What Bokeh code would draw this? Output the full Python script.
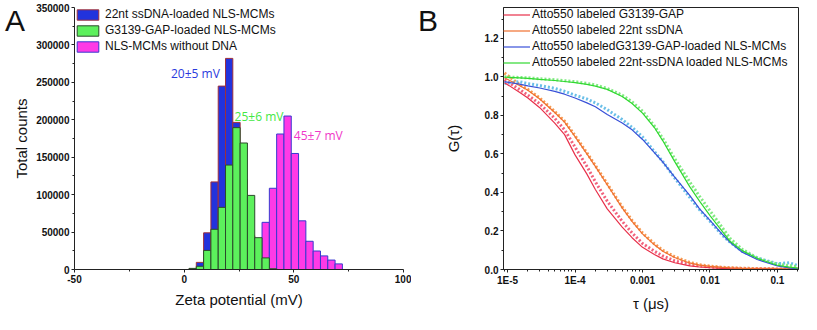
from bokeh.plotting import figure
from bokeh.models import (Range1d, Legend, LegendItem, Label, FixedTicker, Div,
                          BasicTickFormatter, PrintfTickFormatter, CustomJSTickFormatter)
from bokeh.layouts import row
from bokeh.embed import file_html
from bokeh.resources import INLINE

# ---------------- Panel A data (zeta potential histogram) ----------------
bin_centers = [3.87, 7.20, 10.53, 13.86, 17.19, 20.52, 23.85, 27.18, 30.51, 33.84,
               37.17, 40.50, 43.83, 47.16, 50.49, 53.82, 57.15, 60.48, 63.81, 67.14, 70.47]
bin_width = 3.33
blue_counts = [1000, 9500, 49000, 117000, 245000, 282000, 196500, 120000, 45000, 12000,
               2000, 1500, 0, 0, 0, 0, 0, 0, 0, 0, 0]
green_counts = [1500, 4300, 25500, 53700, 83000, 139500, 189500, 169000, 99000, 42500,
                15500, 1000, 0, 0, 0, 0, 0, 0, 0, 0, 0]
pink_counts = [0, 0, 0, 0, 0, 0, 0, 0, 0, 0,
               63000, 108500, 181000, 205000, 155000, 65000, 37700, 24700, 18200, 12600, 7500]
series_a_names = ["22nt ssDNA-loaded NLS-MCMs", "G3139-GAP-loaded NLS-MCMs", "NLS-MCMs without DNA"]
zeta_labels = ["20\u00b15 mV", "25\u00b16 mV", "45\u00b17 mV"]
zeta_label_x = [-6.0, 23.0, 50.0]
zeta_label_y = [262000, 205000, 179000]
a_yticks = [0, 50000, 100000, 150000, 200000, 250000, 300000, 350000]
a_yminor = [25000, 75000, 125000, 175000, 225000, 275000, 325000]
a_xticks = [-50, 0, 50, 100]
a_xminor = [-25, 25, 75]
panel_letters = ["A", "B"]

# ---------------- Panel B data (FCS autocorrelation) ----------------
tau = [9e-6, 1.5e-5, 2e-5, 3e-5, 5e-5, 7e-5, 1e-4, 1.5e-4, 2e-4, 3e-4, 5e-4, 7e-4,
       1e-3, 1.5e-3, 2e-3, 3e-3, 5e-3, 7e-3, 1e-2, 1.5e-2, 2e-2, 3e-2, 5e-2, 7e-2,
       1e-1, 1.5e-1, 2e-1]
red_fit = [0.97, 0.92, 0.89, 0.84, 0.76, 0.70, 0.595, 0.495, 0.415, 0.315, 0.22, 0.165,
           0.115, 0.078, 0.055, 0.035, 0.019, 0.013, 0.009, 0.006, 0.005, 0.004, 0.003, 0.003,
           0.002, 0.002, 0.002]
red_data = [0.985, 0.935, 0.905, 0.86, 0.785, 0.725, 0.635, 0.535, 0.455, 0.355, 0.25, 0.19,
            0.135, 0.095, 0.07, 0.045, 0.026, 0.018, 0.013, 0.009, 0.007, 0.005, 0.004, 0.004,
            0.003, 0.003, 0.003]
orange_fit = [0.995, 0.955, 0.93, 0.885, 0.815, 0.765, 0.69, 0.60, 0.535, 0.44, 0.32, 0.25,
              0.185, 0.128, 0.095, 0.062, 0.034, 0.023, 0.016, 0.011, 0.008, 0.006, 0.004, 0.003,
              0.003, 0.002, 0.002]
orange_data = [1.02, 0.96, 0.935, 0.89, 0.82, 0.77, 0.695, 0.605, 0.54, 0.445, 0.325, 0.255,
               0.19, 0.133, 0.10, 0.066, 0.037, 0.025, 0.018, 0.012, 0.009, 0.007, 0.005, 0.004,
               0.003, 0.003, 0.003]
blue_fit = [0.975, 0.962, 0.953, 0.942, 0.925, 0.91, 0.89, 0.865, 0.845, 0.805, 0.76, 0.725,
            0.675, 0.607, 0.558, 0.48, 0.385, 0.315, 0.255, 0.185, 0.14, 0.09, 0.052, 0.035,
            0.019, 0.008, 0.003]
blue_data = [0.965, 0.975, 0.965, 0.955, 0.94, 0.925, 0.905, 0.885, 0.865, 0.83, 0.778, 0.738,
             0.688, 0.612, 0.56, 0.475, 0.375, 0.31, 0.25, 0.18, 0.14, 0.095, 0.06, 0.045,
             0.03, 0.035, 0.02]
green_fit = [0.998, 0.995, 0.992, 0.987, 0.981, 0.976, 0.97, 0.961, 0.952, 0.935, 0.898, 0.862,
             0.812, 0.737, 0.668, 0.56, 0.43, 0.355, 0.28, 0.20, 0.145, 0.098, 0.058, 0.04,
             0.022, 0.012, 0.007]
green_data = [1.0, 0.997, 0.995, 0.99, 0.985, 0.98, 0.975, 0.966, 0.958, 0.94, 0.905, 0.87,
              0.822, 0.745, 0.68, 0.575, 0.455, 0.38, 0.305, 0.22, 0.16, 0.105, 0.06, 0.042,
              0.028, 0.02, 0.015]
series_b_names = ["Atto550 labeled G3139-GAP", "Atto550 labeled 22nt ssDNA",
                  "Atto550 labeledG3139-GAP-loaded NLS-MCMs",
                  "Atto550 labeled 22nt-ssDNA loaded NLS-MCMs"]
b_xticks = [1e-5, 1e-4, 1e-3, 1e-2, 1e-1]
b_xtick_exps = [-5, -4, -3, -2, -1]
b_xtick_labels = ["1E-5", "1E-4", "0.001", "0.01", "0.1"]
b_yticks = [0.0, 0.2, 0.4, 0.6, 0.8, 1.0, 1.2]
b_yminor = [0.1, 0.3, 0.5, 0.7, 0.9, 1.1, 1.3]

FONT = "Liberation Sans"
BLUE, GREEN, PINK = "#2233dd", "#5cf05c", "#ff3ae6"


def style_axes(p):
    for ax in (p.xaxis[0], p.yaxis[0]):
        ax.major_label_text_font = FONT
        ax.major_label_text_font_style = "bold"
        ax.major_label_text_font_size = "10px"
        ax.major_label_text_color = "#111111"
        ax.major_label_standoff = 2
        ax.axis_label_text_font = FONT
        ax.axis_label_text_font_style = "normal"
        ax.axis_label_text_font_size = "15px"
        ax.axis_label_text_color = "#111111"
        ax.major_tick_in = 0
        ax.major_tick_out = 3
        ax.minor_tick_in = 0
        ax.minor_tick_out = 2
        ax.axis_line_color = "#222222"
        ax.major_tick_line_color = "#222222"
        ax.minor_tick_line_color = "#222222"
    p.xgrid.visible = False
    p.ygrid.visible = False


def letter_div(letter, width, pad_left):
    html = ('<div style="font-family:\'Liberation Sans\';font-size:30px;line-height:30px;'
            'color:#111111;padding-top:6px;padding-left:%dpx;white-space:nowrap">%s</div>'
            % (pad_left, letter))
    return Div(text=html, width=width, height=40, margin=(0, 0, 0, 0),
               styles={"overflow": "visible"})


# ---------------- Panel A ----------------
pA = figure(width=401, height=314, x_range=Range1d(-50, 100), y_range=Range1d(0, 350000),
            output_backend="svg", toolbar_location=None,
            min_border_left=56, min_border_right=8, min_border_top=7, min_border_bottom=0)
pA.outline_line_color = None
pA.border_fill_color = None
style_axes(pA)
pA.xaxis.ticker = FixedTicker(ticks=a_xticks, minor_ticks=a_xminor)
pA.yaxis.ticker = FixedTicker(ticks=a_yticks, minor_ticks=a_yminor)
pA.yaxis.formatter = BasicTickFormatter(use_scientific=False)
pA.xaxis.formatter = CustomJSTickFormatter(code="return tick.toFixed(0);")
pA.xaxis.axis_label = "Zeta potential (mV)"
pA.yaxis.axis_label = "Total counts"
pA.xaxis.axis_label_standoff = 5
pA.yaxis.axis_label_standoff = 3


def nz(xs, ys):
    pairs = [(x, y) for x, y in zip(xs, ys) if y > 0]
    return [q[0] for q in pairs], [q[1] for q in pairs]


bx, by = nz(bin_centers, blue_counts)
rb = pA.vbar(x=bx, top=by, width=bin_width, fill_color=BLUE, line_color="#a0303a", line_width=1)
px_, py_ = nz(bin_centers, pink_counts)
rp = pA.vbar(x=px_, top=py_, width=bin_width, fill_color=PINK, line_color="#3838d0", line_width=1)
gx, gy = nz(bin_centers, green_counts)
rg = pA.vbar(x=gx, top=gy, width=bin_width, fill_color=GREEN, line_color="#2b4a2b", line_width=1)

legA = Legend(items=[LegendItem(label=series_a_names[0], renderers=[rb]),
                     LegendItem(label=series_a_names[1], renderers=[rg]),
                     LegendItem(label=series_a_names[2], renderers=[rp])],
              location="top_left", margin=0, padding=2, spacing=2,
              glyph_width=27, glyph_height=13, label_height=13, label_standoff=4,
              label_text_font=FONT, label_text_font_size="12px", label_text_color="#111111",
              border_line_color=None, background_fill_alpha=0)
pA.add_layout(legA)

label_colors = ["#2a3add", "#44e844", "#f038c8"]
for t, x, y, c in zip(zeta_labels, zeta_label_x, zeta_label_y, label_colors):
    pA.add_layout(Label(x=x, y=y, text=t, text_color=c, text_font="Open Sans",
                        text_font_size="12px", text_baseline="middle", text_align="left"))

# ---------------- Panel B ----------------
pB = figure(width=360, height=314, x_axis_type="log", x_range=Range1d(8.7e-6, 0.205),
            y_range=Range1d(0, 1.36), output_backend="svg", toolbar_location=None,
            min_border_left=59, min_border_right=3, min_border_top=5, min_border_bottom=0)
pB.outline_line_color = "#222222"
style_axes(pB)
pB.yaxis.ticker = FixedTicker(ticks=b_yticks, minor_ticks=b_yminor)
pB.yaxis.formatter = PrintfTickFormatter(format="%.1f")
minor_log = [m * 10.0 ** e for e in range(-6, 0) for m in range(2, 10)]
pB.xaxis.ticker = FixedTicker(ticks=b_xticks, minor_ticks=minor_log)
pB.xaxis.formatter = CustomJSTickFormatter(
    args=dict(exps=b_xtick_exps, labs=b_xtick_labels),
    code="const e = Math.round(Math.log10(tick)); const i = exps.indexOf(e); return i >= 0 ? labs[i] : '';")
pB.xaxis.axis_label = "\u03c4 (\u03bcs)"
pB.yaxis.axis_label = "G(\u03c4)"
pB.xaxis.axis_label_standoff = 6
pB.yaxis.axis_label_standoff = 20

data_styles = [(red_data, "#f0506e"), (orange_data, "#f5903e"),
               (blue_data, "#5ab8e6"), (green_data, "#74e874")]
for ys, c in data_styles:
    pB.line(tau, ys, line_color=c, line_width=3, line_dash="2 2", line_alpha=0.9)

fit_styles = [(red_fit, "#e8304a"), (orange_fit, "#f07030"),
              (blue_fit, "#3850d8"), (green_fit, "#30d830")]
fit_rs = []
for ys, c in fit_styles:
    fit_rs.append(pB.line(tau, ys, line_color=c, line_width=1.2))

legB = Legend(items=[LegendItem(label=n, renderers=[r]) for n, r in zip(series_b_names, fit_rs)],
              location="top_left", margin=0, padding=5, spacing=2,
              glyph_width=27, glyph_height=13, label_height=13, label_standoff=2,
              label_text_font=FONT, label_text_font_size="12px", label_text_color="#111111",
              border_line_color=None, background_fill_alpha=0)
pB.add_layout(legB)

layout = row(letter_div(panel_letters[0], 10, 5), pA,
             letter_div(panel_letters[1], 30, 7), pB)
open("out.html", "w").write(file_html(layout, INLINE))
